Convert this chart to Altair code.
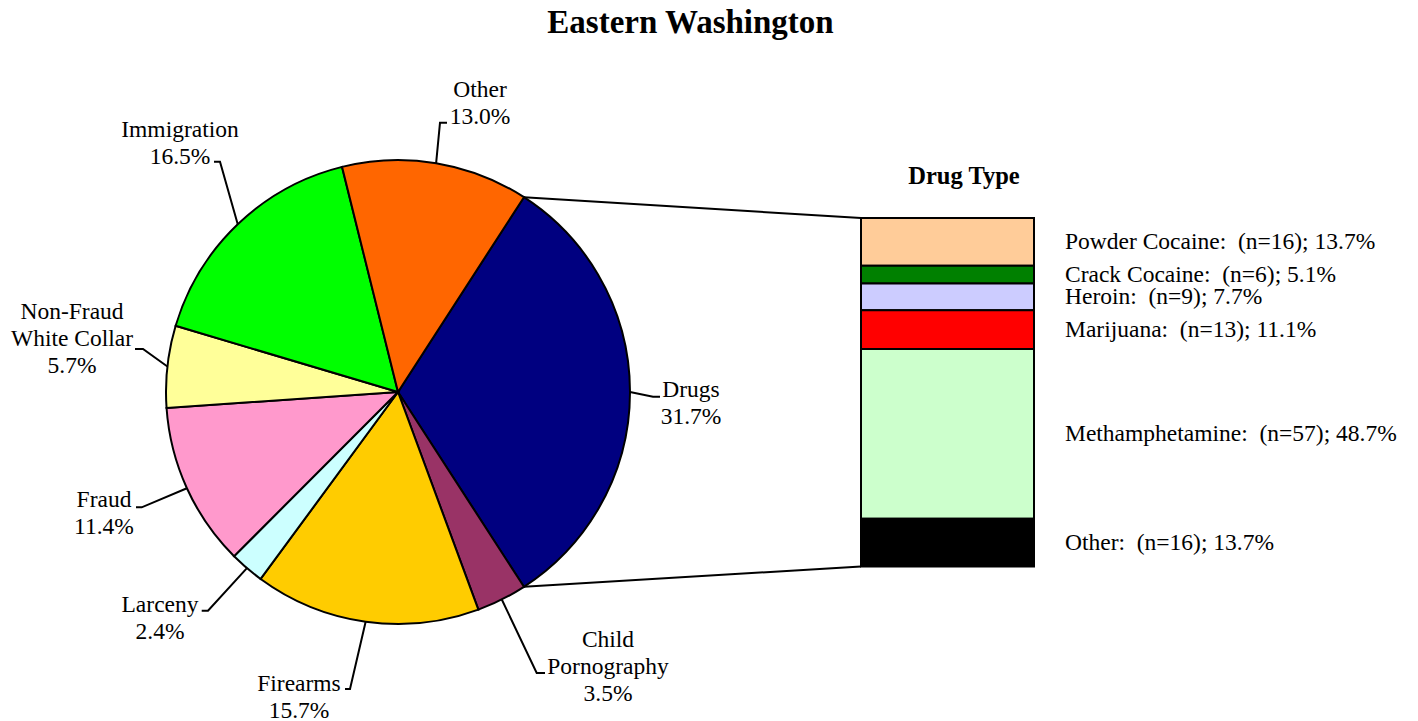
import math
import altair as alt
import pandas as pd

# ---------------- data ----------------
categories = ["Drugs", "Child Pornography", "Firearms", "Larceny", "Fraud",
              "Non-Fraud White Collar", "Immigration", "Other"]
shares = [31.7, 3.5, 15.7, 2.4, 11.4, 5.7, 16.5, 13.0]
slice_colors = ["#000080", "#993366", "#FFCC00", "#CCFFFF", "#FF99CC",
                "#FFFF99", "#00FF00", "#FF6600"]

drug_types = ["Powder Cocaine", "Crack Cocaine", "Heroin", "Marijuana",
              "Methamphetamine", "Other"]
drug_counts = [16, 6, 9, 13, 57, 16]
drug_shares = [13.7, 5.1, 7.7, 11.1, 48.7, 13.7]
drug_colors = ["#FFCC99", "#008000", "#CCCCFF", "#FF0000", "#CCFFCC", "#000000"]

chart_title = "Eastern Washington"
bar_title = "Drug Type"

# ---------------- layout ----------------
FONT = "Liberation Serif"
M = 8                      # page margin (image px -> chart px)
W, H = 1402, 713
CX, CY, R = 398 - M, 392 - M, 232
BAR_X0, BAR_X1 = 861 - M, 1034 - M
BAR_TOP, BAR_BOT = 218 - M, 566.5 - M
WRAP = {"Non-Fraud White Collar": "Non-Fraud\nWhite Collar",
        "Child Pornography": "Child\nPornography"}
# label block centre x, first baseline y, leader bend point, tick end x (image px)
LABEL_LAYOUT = {
    "Other": (480, 96.7, 440, 122.7, 447),
    "Immigration": (180, 136.7, 220, 161.7, 214),
    "Non-Fraud White Collar": (72, 318.5, 143, 349, 135),
    "Fraud": (104, 506.7, 141.7, 507.3, 136),
    "Larceny": (160, 611.7, 208, 610.7, 201.7),
    "Firearms": (299, 690.7, 350, 689, 345),
    "Child Pornography": (608, 646.7, 536.7, 673, 545),
    "Drugs": (691, 396.7, 653, 396.7, 660),
}

total = sum(shares)
start = math.pi / 2 - math.pi * shares[0] / total   # Drugs centred at 3 o'clock


def edge(angle):
    return CX + R * math.sin(angle), CY - R * math.cos(angle)


pie_df = pd.DataFrame({"category": categories, "share": shares,
                       "idx": list(range(len(categories)))})

# leader lines and labels
lead_rows, lab_rows = [], []
cum = 0.0
for cat, s in zip(categories, shares):
    mid = start + 2 * math.pi * (cum + s / 2) / total
    cum += s
    ex, ey = edge(mid)
    lx, ly, bx, by, tx = LABEL_LAYOUT[cat]
    for k, (px_, py_) in enumerate([(ex, ey), (bx - M, by - M), (tx - M, by - M)]):
        lead_rows.append({"category": cat, "pt": k, "x": px_, "y": py_})
    lab_rows.append({"category": cat, "x": lx - M, "y": ly - M,
                     "label": f"{WRAP.get(cat, cat)}\n{s:.1f}%"})
lead_df = pd.DataFrame(lead_rows)
lab_df = pd.DataFrame(lab_rows)

# connectors from the Drugs slice to the bar
a0 = start
a1 = start + 2 * math.pi * shares[0] / total
(x0, y0), (x1, y1) = edge(a0), edge(a1)
conn_df = pd.DataFrame({"x": [x0, x1], "y": [y0, y1],
                        "x2": [BAR_X0, BAR_X0], "y2": [BAR_TOP, BAR_BOT]})

dtotal = sum(drug_shares)
drug_df = pd.DataFrame({"drug": drug_types, "n": drug_counts, "share": drug_shares,
                        "order": list(range(len(drug_types) - 1, -1, -1))})
run = 0.0
mids = []
for s in drug_shares:
    mids.append(dtotal - (run + s / 2))
    run += s
drug_df["mid"] = mids
drug_df["label"] = [f"{d}:\u00a0 (n={n}); {s:.1f}%"
                    for d, n, s in zip(drug_types, drug_counts, drug_shares)]

px = alt.Scale(domain=[0, W], range=[0, W], nice=False, zero=False)
py = alt.Scale(domain=[0, H], range=[0, H], nice=False, zero=False)
bar_y = alt.Scale(domain=[0, dtotal], range=[BAR_BOT, BAR_TOP], nice=False, zero=False)

connectors = alt.Chart(conn_df).mark_rule(color="black", strokeWidth=2).encode(
    x=alt.X("x:Q", scale=px, axis=None), y=alt.Y("y:Q", scale=py, axis=None),
    x2="x2:Q", y2="y2:Q")

pie = alt.Chart(pie_df).mark_arc(outerRadius=R, stroke="black", strokeWidth=2).encode(
    theta=alt.Theta("share:Q", stack=True,
                    scale=alt.Scale(range=[start, start + 2 * math.pi])),
    color=alt.Color("category:N", scale=alt.Scale(domain=categories, range=slice_colors),
                    legend=None),
    order=alt.Order("idx:Q"),
    x=alt.value(CX), y=alt.value(CY))

leaders = alt.Chart(lead_df).mark_line(color="black", strokeWidth=2).encode(
    x=alt.X("x:Q", scale=px, axis=None), y=alt.Y("y:Q", scale=py, axis=None),
    detail="category:N", order="pt:Q")

labels = alt.Chart(lab_df).mark_text(
    font=FONT, fontSize=23.5, lineBreak="\n", lineHeight=27, align="center",
    baseline="alphabetic", color="black").encode(
    x=alt.X("x:Q", scale=px, axis=None), y=alt.Y("y:Q", scale=py, axis=None),
    text="label:N")

bar = alt.Chart(drug_df).transform_stack(
    stack="share", as_=["s0", "s1"], groupby=[],
    sort=[alt.SortField("order", order="ascending")]
).mark_rect(stroke="black", strokeWidth=2).encode(
    x=alt.value(BAR_X0), x2=alt.value(BAR_X1),
    y=alt.Y("s0:Q", scale=bar_y, axis=None), y2="s1:Q",
    color=alt.Color("drug:N", scale=alt.Scale(domain=drug_types, range=drug_colors),
                    legend=None))

bar_labels = alt.Chart(drug_df).mark_text(
    font=FONT, fontSize=23.5, align="left", baseline="middle", color="black").encode(
    x=alt.value(1065 - M),
    y=alt.Y("mid:Q", scale=bar_y, axis=None),
    text="label:N")

title = alt.Chart(pd.DataFrame({"t": [chart_title]})).mark_text(
    font=FONT, fontSize=33, fontWeight="bold", align="center", baseline="alphabetic",
    color="black").encode(x=alt.value(690.5 - M), y=alt.value(33 - M), text="t:N")

sub = alt.Chart(pd.DataFrame({"t": [bar_title]})).mark_text(
    font=FONT, fontSize=24.5, fontWeight="bold", align="center", baseline="alphabetic",
    color="black").encode(x=alt.value(964 - M), y=alt.value(183.5 - M), text="t:N")

chart = alt.layer(connectors, pie, leaders, labels, bar, bar_labels, title, sub).resolve_scale(
    y="independent", color="independent"
).properties(
    width=W, height=H, padding=0, autosize=alt.AutoSizeParams(type="none")
).configure_view(stroke=None)

chart.save("out.html", embed_options={"renderer": "svg", "actions": False})
